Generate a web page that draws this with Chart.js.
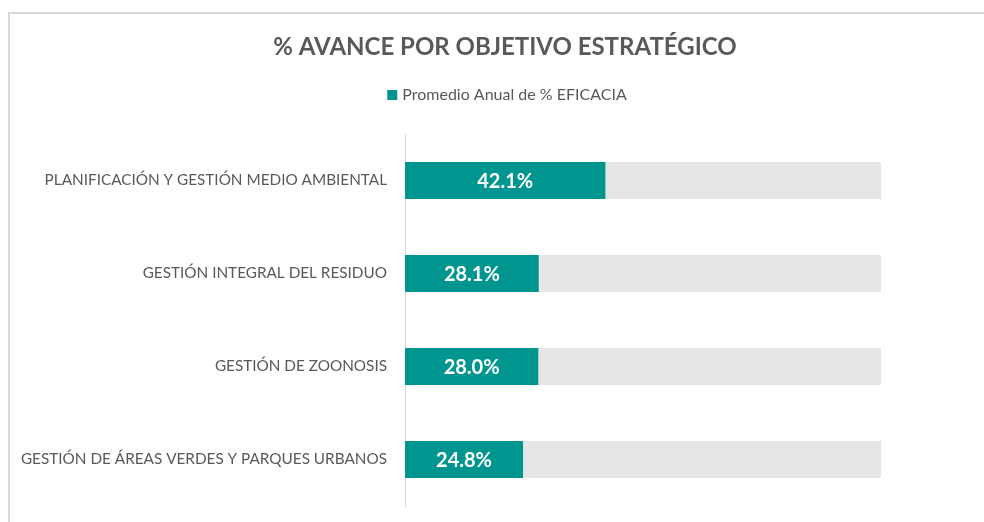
<!DOCTYPE html>
<html>
<head>
<meta charset="utf-8">
<script src="https://cdn.jsdelivr.net/npm/chart.js@4.4.1/dist/chart.umd.min.js"></script>
<style>
  html, body { margin: 0; padding: 0; background: #ffffff; }
  #wrap { width: 984px; height: 522px; position: relative; }
</style>
</head>
<body>
<div id="wrap"><canvas id="c" width="984" height="522"></canvas></div>
<script>
const categories = [
  'PLANIFICACIÓN Y GESTIÓN MEDIO AMBIENTAL',
  'GESTIÓN INTEGRAL DEL RESIDUO',
  'GESTIÓN DE ZOONOSIS',
  'GESTIÓN DE ÁREAS VERDES Y PARQUES URBANOS'
];
const eficacia = [42.1, 28.1, 28.0, 24.8];
const track = [100, 100, 100, 100];
const seriesName = 'Promedio Anual de % EFICACIA';
const chartTitle = '% AVANCE POR OBJETIVO ESTRATÉGICO';

const FONT = 'Lato, "Liberation Sans", sans-serif';
const TEAL = '#00968F';
const GRAY = '#E6E6E6';
const TEXT = '#595959';

const frame = {
  id: 'frame',
  beforeDraw(chart) {
    const ctx = chart.ctx;
    ctx.save();
    ctx.strokeStyle = '#D9D9D9';
    ctx.lineWidth = 2;
    ctx.beginPath();
    ctx.moveTo(9, 522);
    ctx.lineTo(9, 13);
    ctx.lineTo(984, 13);
    ctx.stroke();
    ctx.restore();
  }
};

const header = {
  id: 'header',
  afterDraw(chart) {
    const ctx = chart.ctx;
    ctx.save();
    ctx.fillStyle = TEXT;
    ctx.textBaseline = 'middle';
    ctx.textAlign = 'center';
    ctx.font = 'bold 24px ' + FONT;
    ctx.fillText(chartTitle, 505, 47);
    // legend
    ctx.font = '16px ' + FONT;
    const tw = ctx.measureText(seriesName).width;
    const box = 10, gap = 5;
    const total = box + gap + tw;
    const x0 = 507 - total / 2;
    ctx.fillStyle = chart.data.datasets[0].backgroundColor;
    ctx.fillRect(x0, 95 - box / 2, box, box);
    ctx.fillStyle = TEXT;
    ctx.textAlign = 'left';
    ctx.fillText(seriesName, x0 + box + gap, 95);
    ctx.restore();
  }
};

const valueLabels = {
  id: 'valueLabels',
  afterDatasetsDraw(chart) {
    const ctx = chart.ctx;
    const meta = chart.getDatasetMeta(0);
    ctx.save();
    ctx.fillStyle = '#FFFFFF';
    ctx.font = 'bold 20px ' + FONT;
    ctx.textAlign = 'center';
    ctx.textBaseline = 'middle';
    meta.data.forEach((bar, i) => {
      const cx = (bar.x + bar.base) / 2;
      ctx.fillText(eficacia[i].toFixed(1) + '%', cx, bar.y + 1);
    });
    ctx.restore();
  }
};

new Chart(document.getElementById('c'), {
  type: 'bar',
  data: {
    labels: categories,
    datasets: [
      {
        label: seriesName,
        data: eficacia,
        backgroundColor: TEAL,
        borderWidth: 0,
        order: 1,
        grouped: false,
        categoryPercentage: 0.8,
        barPercentage: 0.5
      },
      {
        label: 'track',
        data: track,
        backgroundColor: GRAY,
        borderWidth: 0,
        order: 2,
        grouped: false,
        categoryPercentage: 0.8,
        barPercentage: 0.5
      }
    ]
  },
  options: {
    indexAxis: 'y',
    responsive: false,
    animation: false,
    maintainAspectRatio: false,
    layout: { padding: { top: 134, left: 10, right: 103, bottom: 16 } },
    plugins: {
      title: { display: false },
      legend: { display: false },
      tooltip: { enabled: false }
    },
    scales: {
      x: { display: false, min: 0, max: 100 },
      y: {
        grid: { display: false },
        border: { display: true, color: '#D9D9D9', width: 1 },
        ticks: {
          color: TEXT,
          font: { family: FONT, size: 15.3 },
          padding: 10
        },
        afterFit(scale) {
          scale.width = 405 - 10;
          scale.paddingTop = 0;
          scale.paddingBottom = 0;
        }
      }
    }
  },
  plugins: [frame, header, valueLabels]
});
</script>
</body>
</html>
